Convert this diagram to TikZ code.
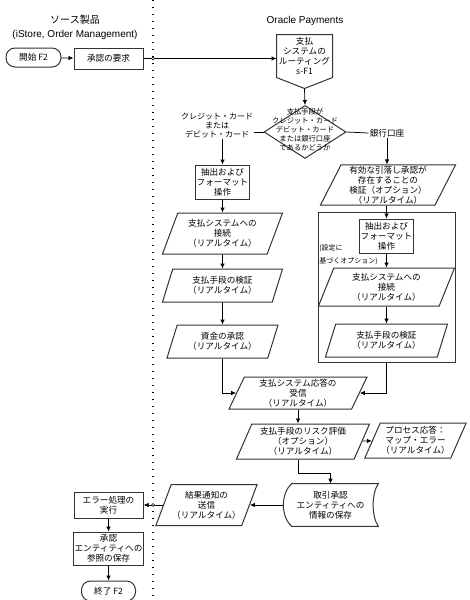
\documentclass[tikz,border=0pt]{standalone}
\usepackage{fontspec}
\setmainfont{Noto Sans CJK JP}
\newfontfamily\latinfont{Liberation Sans}
\usetikzlibrary{positioning,shapes.geometric,arrows.meta}

\newcommand{\bodyfont}{\fontsize{8.6}{10}\selectfont}
\newcommand{\decfont}{\fontsize{7.3}{9.2}\selectfont}
\newcommand{\cardfont}{\fontsize{8}{8.8}\selectfont}
\newcommand{\notefont}{\fontsize{7}{13}\selectfont}
\newcommand{\titlefont}{\fontsize{10}{14}\selectfont}

\begin{document}
\begin{tikzpicture}[x=1pt,y=-1pt,->,>={Latex[length=5pt,width=4.5pt]},line width=0.75pt,
    box/.style={draw=black!80,line width=1pt,align=center,font=\bodyfont,inner sep=1pt},
    term/.style={box,rounded corners=9pt},
    io/.style={trapezium,trapezium left angle=63,trapezium right angle=117,trapezium stretches body,draw=black!80,line width=1pt,align=center,font=\bodyfont,inner sep=1pt},
    decision/.style={diamond,draw=black!80,line width=1pt,inner sep=0pt,minimum width=82pt,minimum height=53pt},
    outline/.style={-,draw=black!80,line width=1pt},
    lbl/.style={align=center,font=\bodyfont,inner sep=1pt},
    hop/.style={circle,draw,fill=white,line width=0.5pt,inner sep=0pt,minimum size=3pt},
    lane/.style={-,line width=1.2pt,dash pattern=on 1.3pt off 5.7pt}]
    \useasboundingbox (0,0) rectangle (469,600);

    % swim lane
    \coordinate (laneTop) at (153,0);
    \coordinate (laneBot) at (153,600);
    \draw[lane] (laneTop) -- (laneBot);
    \node[lbl] (srcTitle) [font=\titlefont] at (75,27) {ソース製品\\{\latinfont (iStore, Order Management)}};
    \node[lbl] (oraTitle) [font=\titlefont\latinfont] at (305,21) {Oracle Payments};

    % source side, top
    \node[term] (start) [minimum width=55pt,minimum height=19pt] at (33.5,57.5) {開始 F2};
    \node[box] (req) [minimum width=69pt,minimum height=21pt] at (108.5,58.5) {承認の要求};

    % routing and decision
    \node[box,draw=none] (route) [minimum width=55pt,minimum height=42pt] at (304.5,56) {支払\\システムの\\ルーティング\\s-F1};
    \coordinate (routeTip) at ([yshift=-11pt]route.south);
    \draw[outline] (route.north west) -- (route.north east) -- (route.south east) -- (routeTip) -- (route.south west) -- cycle;
    \node[decision] (dec) at (305,132) {};
    \node[lbl] (decText) [font=\decfont] at (305,129.5) {支払手段が\\クレジット・カード\\デビット・カード\\または銀行口座\\であるかどうか};
    \node[lbl] (lblCard) [font=\cardfont] at (217,125.5) {クレジット・カード\\または\\デビット・カード};
    \node[lbl] (lblBank) at (387,133) {銀行口座};

    % card column
    \node[box] (extA) [minimum width=53pt,minimum height=34pt] at (222.5,182) {抽出および\\フォーマット\\操作};
    \node[io] (connA) [below=13pt of extA,minimum width=120pt,minimum height=41pt] {支払システムへの\\接続\\（リアルタイム）};
    \node[io] (checkA) [below=14pt of connA,minimum width=120pt,minimum height=33pt] {支払手段の検証\\（リアルタイム）};
    \node[io] (fundA) [below=22pt of checkA,minimum width=111pt,minimum height=33pt] {資金の承認\\（リアルタイム）};

    % bank column
    \node[io] (bankChk) [minimum width=135pt,minimum height=40pt] at (388,185) {有効な引落し承認が\\存在することの\\検証（オプション）\\（リアルタイム）};
    \node[draw=black!80,line width=1pt] (grp) [minimum width=137pt,minimum height=150pt] at (386.5,287) {};
    \node[box] (extB) [below=7pt of grp.north,minimum width=54pt,minimum height=34pt] {抽出および\\フォーマット\\操作};
    \node[lbl] (optNote) [font=\notefont,align=left,anchor=west] at (318,254.5) {(設定に\\基づくオプション)};
    \node[io] (connB) [below=14pt of extB,minimum width=136pt,minimum height=38pt] {支払システムへの\\接続\\（リアルタイム）};
    \node[io] (checkB) [below=17pt of connB,minimum width=122pt,minimum height=33pt] {支払手段の検証\\（リアルタイム）};

    % response handling
    \node[io] (resp) [minimum width=138pt,minimum height=32pt] at (298,393) {支払システム応答の\\受信\\（リアルタイム）};
    \node[io] (risk) [below=14pt of resp,xshift=5pt,minimum width=133pt,minimum height=35pt] {支払手段のリスク評価\\（オプション）\\（リアルタイム）};
    \node[io] (proc) [minimum width=91pt,minimum height=35pt] at (415.5,440.5) {プロセス応答：\\マップ・エラー\\（リアルタイム）};
    \node[lbl] (store) [minimum width=95pt,minimum height=42pt] at (330.5,505) {取引承認\\エンティティへの\\情報の保存};
    \draw[outline] ([xshift=9pt]store.north west) -- (store.north east)
        .. controls ([xshift=-7pt,yshift=-10pt]store.north east) and ([xshift=-7pt,yshift=10pt]store.south east) .. (store.south east)
        -- ([xshift=9pt]store.south west)
        .. controls ([xshift=-2pt,yshift=10pt]store.south west) and ([xshift=-2pt,yshift=-10pt]store.north west) .. ([xshift=9pt]store.north west) -- cycle;
    \node[io] (notify) [minimum width=95pt,minimum height=41pt] at (206.5,505) {結果通知の\\送信\\（リアルタイム）};

    % source side, bottom
    \node[box] (errRun) [minimum width=69pt,minimum height=26pt] at (108.5,505) {エラー処理の\\実行};
    \node[box] (saveRef) [below=13pt of errRun,minimum width=69pt,minimum height=33pt] {承認\\エンティティへの\\参照の保存};
    \node[term] (finish) [below=15pt of saveRef,minimum width=54pt,minimum height=20pt] {終了 F2};

    \draw (start) -- (req);
    \draw (req.east) -- (req.east -| route.west);
    \draw (routeTip) -- (dec.north);
    \draw[-] (dec.west) -- (dec.west -| lblCard.east);
    \draw[-] (dec.east) -- (lblBank.west);
    \draw (lblCard.south -| extA.north) -- (extA.north);
    \draw (lblBank.south) -- (lblBank.south |- bankChk.north);
    \draw (extA) -- (connA);
    \draw (connA) -- (checkA);
    \draw (checkA) -- (fundA);
    \draw (bankChk.south -| extB.north) -- (extB.north);
    \draw (extB) -- (connB);
    \draw (connB.south -| extB.south) -- (checkB.north -| extB.south);
    \draw (fundA) |- (resp);
    \draw (grp.south -| extB.south) |- (resp);
    \draw (resp.south) -- (resp.south |- risk.north);
    \draw (risk) -- (proc);
    \draw (resp.south |- risk.south) -- ++(0,14) -| (store.north);
    \draw (store) -- (notify);
    \draw (notify) -- (errRun);
    \draw (errRun) -- (saveRef);
    \draw (saveRef) -- (finish);

    \node[hop] (hopTop) at (laneTop |- req.east) {};
    \node[hop] (hopBot) at (laneTop |- errRun.east) {};
\end{tikzpicture}
\end{document}
